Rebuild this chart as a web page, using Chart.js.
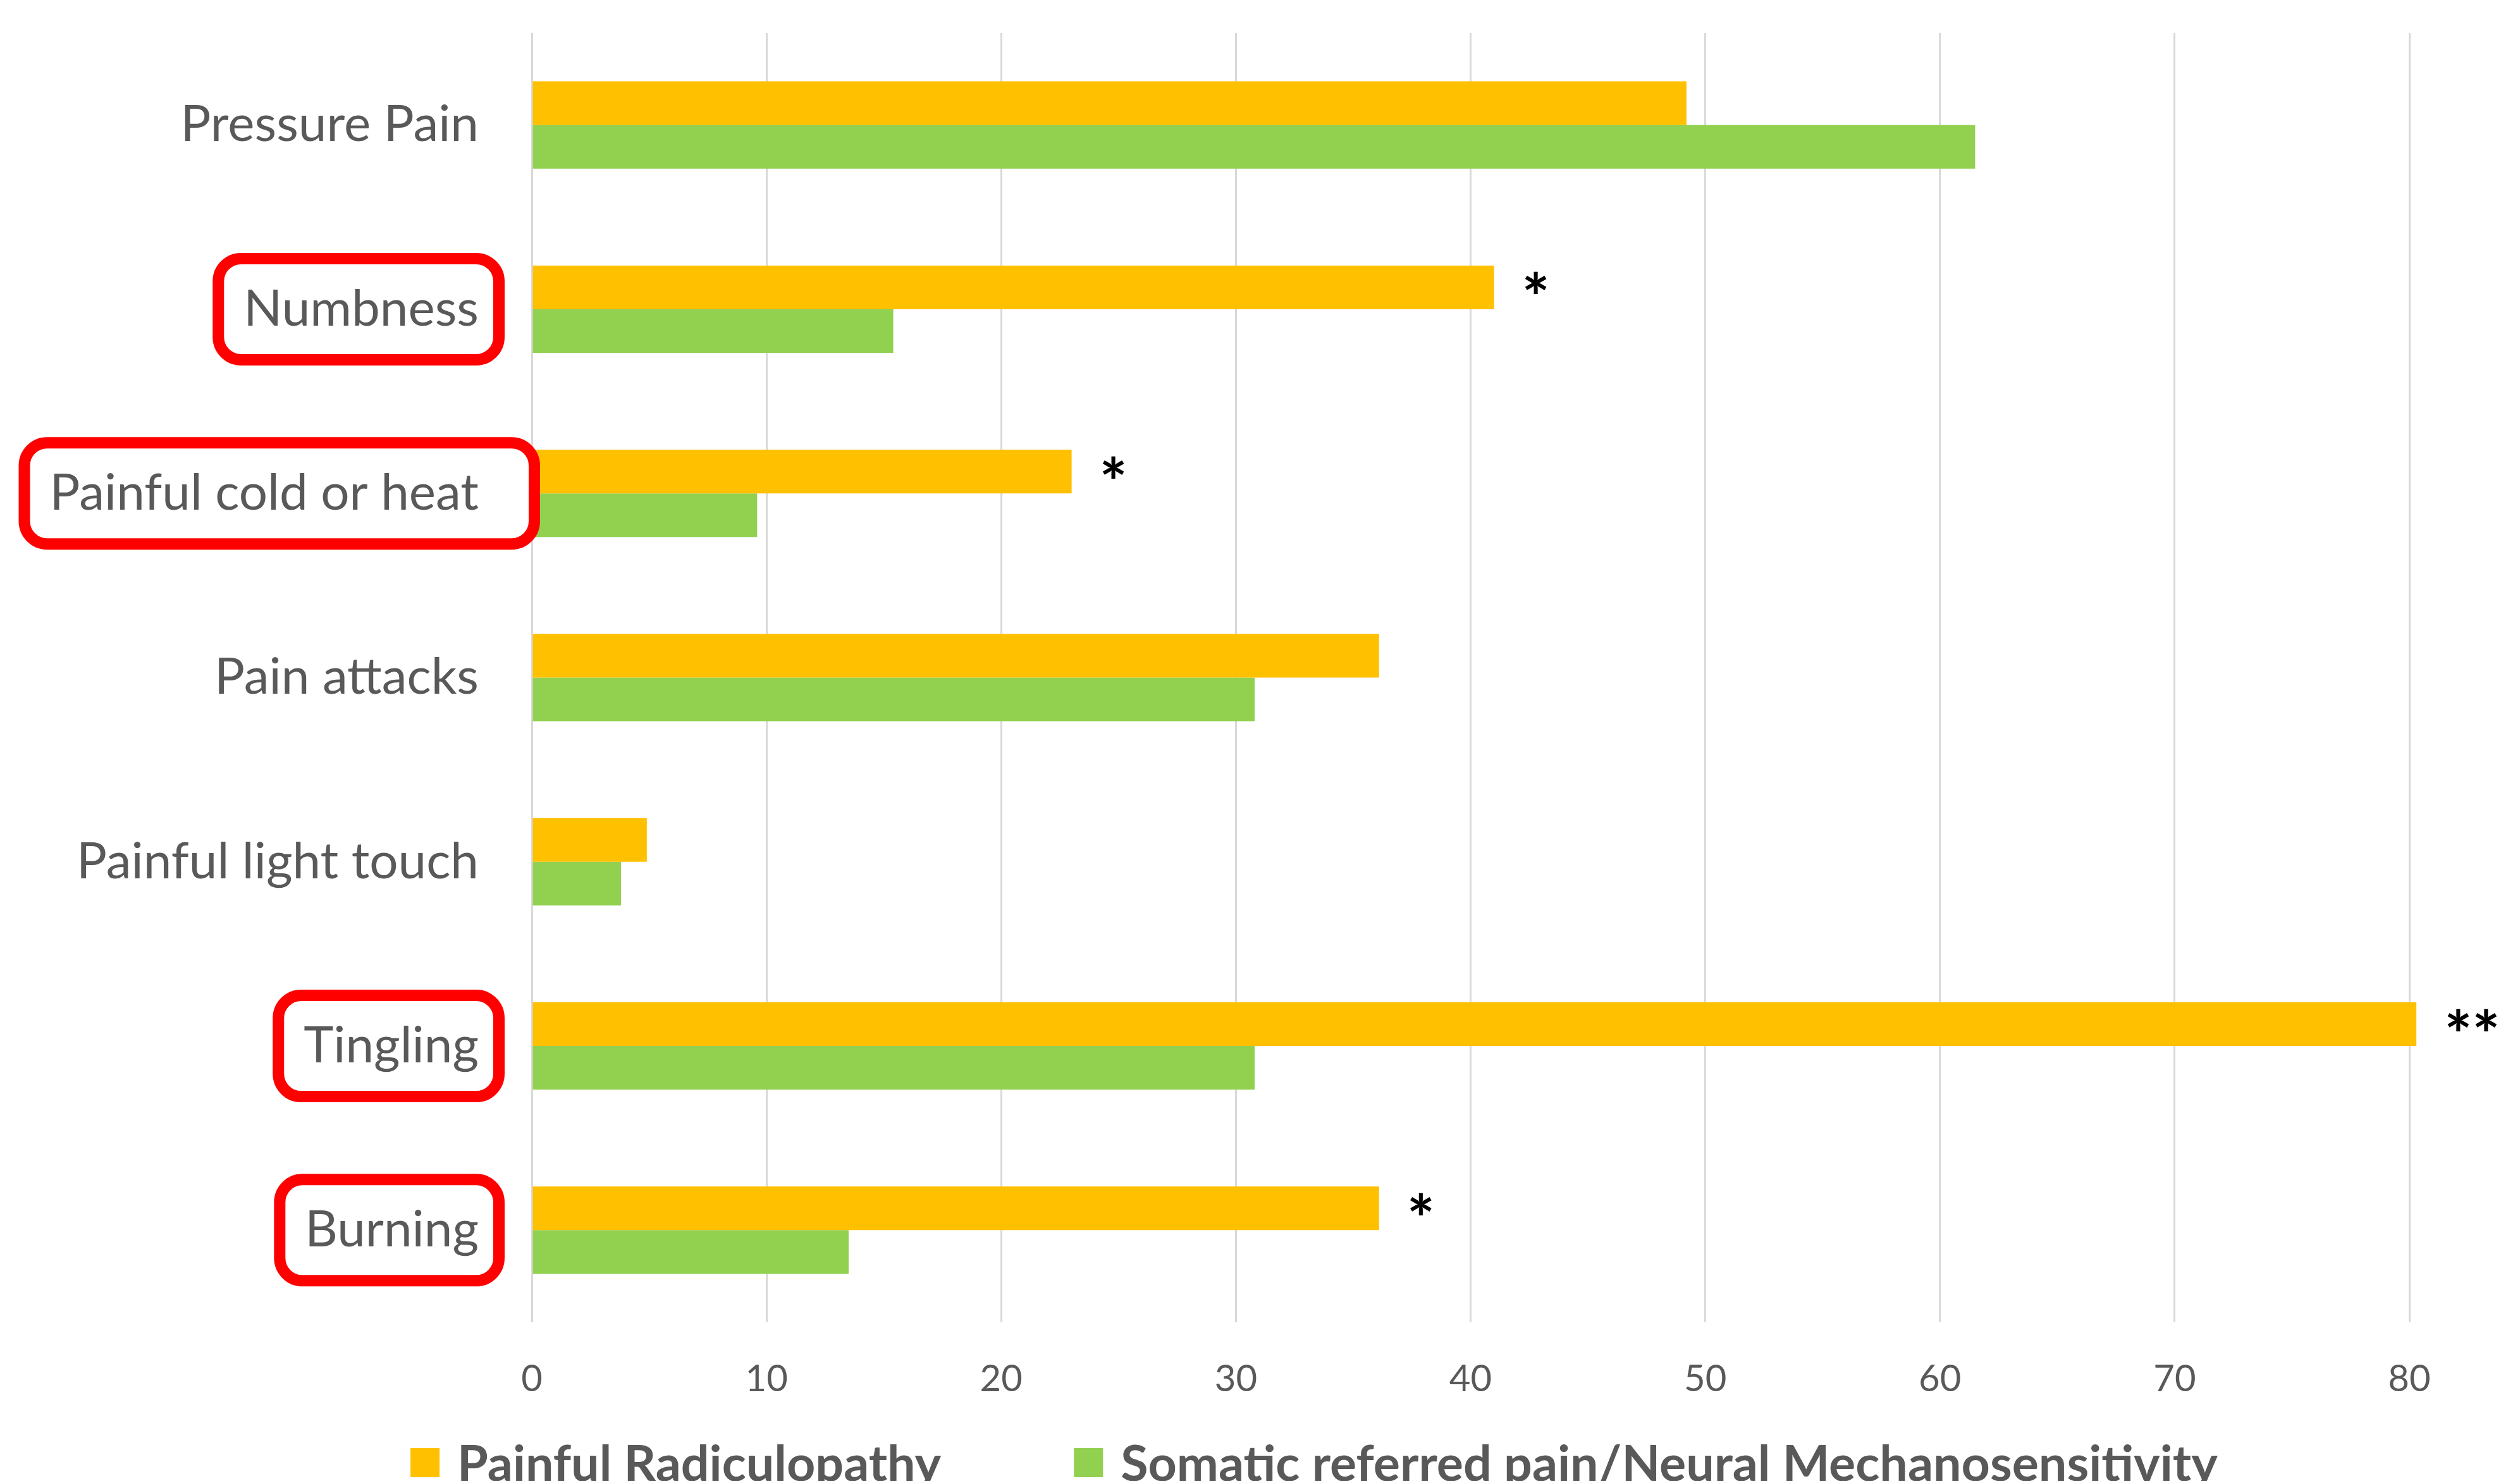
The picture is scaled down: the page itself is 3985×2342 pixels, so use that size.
<!DOCTYPE html>
<html>
<head>
<meta charset="utf-8">
<script src="https://cdn.jsdelivr.net/npm/chart.js@4.4.1/dist/chart.umd.min.js"></script>
<style>
html,body{margin:0;padding:0;background:#fff;overflow:hidden}
canvas{display:block}
</style>
</head>
<body>
<canvas id="c" width="3985" height="2342"></canvas>
<script>
const categories = ["Pressure Pain","Numbness","Painful cold or heat","Pain attacks","Painful light touch","Tingling","Burning"]
const radiculopathy = [49.2, 41.0, 23.0, 36.1, 4.9, 80.3, 36.1]
const somatic = [61.5, 15.4, 9.6, 30.8, 3.8, 30.8, 13.5]
const significance = ["", "*", "*", "", "", "**", "*"]
const highlighted = ["Numbness","Painful cold or heat","Tingling","Burning"]
const series_names = ["Painful Radiculopathy","Somatic referred pain/Neural Mechanosensitivity"]
const x_ticks = [0,10,20,30,40,50,60,70,80]

const orange = "#FFC000"
const green = "#92D050"
const text_grey = "#595959"
const font_name = "Lato"
const label_size = 80

// stars after the orange bars
const star_plugin = {
    id:"stars",
    afterDatasetsDraw(chart){
        const ctx = chart.ctx
        const bars = chart.getDatasetMeta(0).data
        ctx.save()
        ctx.fillStyle = "#000"
        ctx.font = "bold 104px " + font_name
        ctx.textAlign = "left"
        ctx.textBaseline = "alphabetic"
        significance.forEach((s,i) => {
            if (!s) return
            const b = bars[i]
            const m = ctx.measureText(s)
            const cy = b.y - 7 + (m.actualBoundingBoxAscent - m.actualBoundingBoxDescent)/2
            ctx.fillText(s, b.x + 44, cy)
        })
        ctx.restore()
    }
}

// red rounded boxes round some category labels
const box_plugin = {
    id:"boxes",
    afterDraw(chart){
        const ctx = chart.ctx
        const y = chart.scales.y
        ctx.save()
        ctx.font = label_size + "px " + font_name
        ctx.strokeStyle = "#FF0000"
        ctx.lineWidth = 18
        highlighted.forEach(name => {
            const i = categories.indexOf(name)
            const cy = y.getPixelForValue(i)
            const right_text = y.right - 84
            const w = ctx.measureText(name).width
            const extra = name == "Painful cold or heat" ? 88 : 32
            const left = right_text - w - 40
            const right = right_text + extra
            ctx.beginPath()
            ctx.roundRect(left, cy - 80, right - left, 160, 36)
            ctx.stroke()
        })
        ctx.restore()
    }
}

// legend at the bottom, cut off by the page edge like the original
const legend_plugin = {
    id:"legend_bottom",
    afterDraw(chart){
        const ctx = chart.ctx
        ctx.save()
        ctx.font = "bold 79px " + font_name
        ctx.textBaseline = "middle"
        ctx.textAlign = "left"
        const box = 46, gap = 28, item_gap = 210
        const cols = [orange, green]
        const widths = series_names.map(n => ctx.measureText(n).width)
        let total = 0
        widths.forEach((w,i) => { total += box + gap + w; if (i < widths.length-1) total += item_gap })
        let x = 2078 - total/2
        const cy = 2313
        series_names.forEach((n,i) => {
            ctx.fillStyle = cols[i]
            ctx.fillRect(x, cy - box/2, box, box)
            ctx.fillStyle = text_grey
            ctx.fillText(n, x + box + gap, cy + 4)
            x += box + gap + widths[i] + item_gap
        })
        ctx.restore()
    }
}

function create_chart(){
    const canvas = document.getElementById("c")
    return new Chart(canvas.getContext("2d"), {
        type:"bar",
        data:{
            labels:categories,
            datasets:[
                {label:series_names[0], data:radiculopathy, backgroundColor:orange, borderWidth:0, clip:false},
                {label:series_names[1], data:somatic, backgroundColor:green, borderWidth:0, clip:false}
            ]
        },
        options:{
            indexAxis:"y",
            responsive:false,
            devicePixelRatio:1,
            animation:false,
            maintainAspectRatio:false,
            datasets:{bar:{categoryPercentage:0.474, barPercentage:1}},
            layout:{padding:{left:0, right:175, top:52, bottom:71}},
            plugins:{legend:{display:false}, tooltip:{enabled:false}},
            scales:{
                x:{
                    min:0, max:80,
                    afterBuildTicks(axis){ axis.ticks = x_ticks.map(v => ({value:v})) },
                    afterFit(axis){ axis.height = 180; axis.paddingLeft = 0; axis.paddingRight = 0 },
                    grid:{color:"#D9D9D9", lineWidth:3, drawTicks:false},
                    border:{display:false},
                    ticks:{color:text_grey, font:{family:font_name, size:58}, padding:55}
                },
                y:{
                    afterFit(axis){ axis.width = 841; axis.paddingTop = 0; axis.paddingBottom = 0 },
                    grid:{display:false, drawTicks:false},
                    border:{display:false},
                    ticks:{color:text_grey, font:{family:font_name, size:label_size}, padding:84}
                }
            }
        },
        plugins:[star_plugin, box_plugin, legend_plugin]
    })
}

Promise.all([
    document.fonts.load(label_size + "px " + font_name),
    document.fonts.load("bold 79px " + font_name)
]).catch(() => {}).then(() => { create_chart() })
</script>
</body>
</html>
